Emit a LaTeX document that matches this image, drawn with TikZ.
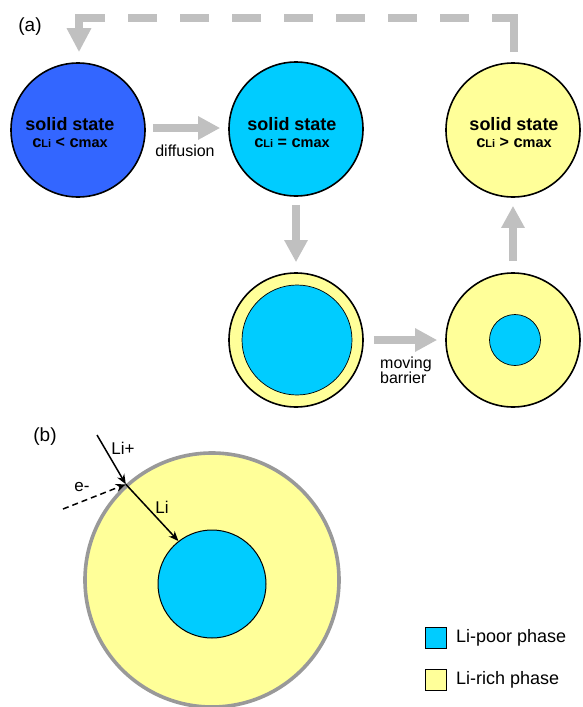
\documentclass[tikz,border=0pt]{standalone}
\usepackage{fontspec}
\setmainfont{Liberation Sans}
\usetikzlibrary{arrows.meta}
\definecolor{darkblue}{RGB}{51,102,255}
\definecolor{cyanfill}{RGB}{0,204,255}
\definecolor{yellowfill}{RGB}{255,255,153}
\definecolor{arrowgray}{RGB}{192,192,192}
\definecolor{rimgray}{RGB}{153,153,153}
\newcommand\fsz[1]{\fontsize{#1}{#1}\selectfont}
\newcommand\cexpr[1]{{\bfseries\fsz{16.5}c}{\bfseries\fsz{11}Li}\hspace{4.5pt}{\bfseries\fsz{16}#1}\hspace{4.5pt}{\bfseries\fsz{16.5}c}{\bfseries\fsz{14.5}max}}
\begin{document}
\begin{tikzpicture}[x=1pt,y=-1pt,
  circ/.style={circle, draw=black, line width=1.6pt, minimum size=134pt, inner sep=0pt},
  core/.style={circle, draw=black, line width=0.7pt, fill=cyanfill, inner sep=0pt},
  state/.style={align=center, inner sep=0pt},
  garrow/.style={draw=arrowgray, line width=8pt, -{Triangle[length=22pt,width=22pt]}},
  gdash/.style={draw=arrowgray, line width=8pt, -{Triangle[length=24pt,width=23pt]},
    dash pattern=on 56pt off 23pt on 29pt off 23pt on 29pt off 23pt on 29pt off 23pt on 29pt off 23pt on 29pt off 23pt on 29pt off 23pt on 29pt off 23pt on 80pt},
  barrow/.style={draw=black, line width=1.5pt, -{Stealth[length=10pt,width=8pt]}},
  lbl/.style={inner sep=0pt, font=\fsz{17}},
  legbox/.style={draw=black, line width=0.9pt, minimum size=21pt, inner sep=0pt},
  ]
\useasboundingbox (0,0) rectangle (582,707);

% ---------- (a) ----------
\node[inner sep=0pt, font=\fsz{19}] (pa) at (30,27) {(a)};

\node[circ, fill=darkblue]   (c1) at (78,130) {};
\node[circ, fill=cyanfill]   (c2) at (296,129) {};
\node[circ, fill=yellowfill] (c3) at (513,130) {};
\node[circ, fill=yellowfill] (c4) at (296,340) {};
\node[core, minimum size=110pt] (k4) at (297,340) {};
\node[circ, fill=yellowfill] (c5) at (513,340) {};
\node[core, minimum size=51pt] (k5) at (515,340) {};

\node[state] (t1) at (70,133) {{\bfseries\fsz{18}solid state}\\[5pt]\cexpr{<}};
\node[state] (t2) at (292,133) {{\bfseries\fsz{18}solid state}\\[5pt]\cexpr{=}};
\node[state] (t3) at (514,133) {{\bfseries\fsz{18}solid state}\\[5pt]\cexpr{>}};

\draw[garrow, shorten <=7pt, shorten >=8pt] (c1.east |- 0,128) -- (c2.west |- 0,128);
\node[inner sep=0pt, font=\fsz{16}] (dif) at (185,151) {diffusion};
\draw[garrow, shorten <=8pt, shorten >=10pt] (c2.south) -- (c4.north);
\draw[garrow, shorten <=10pt, shorten >=8pt] (c4.east) -- (c5.west);
\node[inner sep=0pt, font=\fsz{16}, align=left, anchor=west] (mb) at (380,370) {moving\\[-1pt]barrier};
\draw[garrow, shorten <=11pt, shorten >=8pt] (c5.north) -- (c3.south);

\coordinate (tr) at (514,18);
\coordinate (tl) at (79,18);
\draw[gdash] ([yshift=10pt]c3.north -| tr) -- (tr) -- (tl) -- ([yshift=10pt]c1.north -| tl);

% ---------- (b) ----------
\node[inner sep=0pt, font=\fsz{19}] (pb) at (45,437) {(b)};
\node[circle, draw=rimgray, line width=3.6pt, fill=yellowfill, minimum size=254pt, inner sep=0pt] (big) at (212,580) {};
\node[core, line width=1pt, minimum size=108pt] (inner) at (212,584) {};

\coordinate (entry) at (big.132);
\coordinate (lip) at (97,435);
\coordinate (ep) at (63,509);
\draw[barrow] (lip) -- (entry);
\draw[barrow, dash pattern=on 6pt off 4pt] (ep) -- (entry);
\draw[barrow] (entry) -- (inner.128);
\node[lbl] (lplus) at (123,448) {Li+};
\node[lbl] (lem) at (82,487) {e-};
\node[lbl] (lli) at (162,507) {Li};

% legend
\node[legbox, fill=cyanfill]   (lg1) at (435.5,637.5) {};
\node[legbox, fill=yellowfill] (lg2) at (435.5,679.5) {};
\node[inner sep=0pt, anchor=west, font=\fsz{18}] (lt1) at (456,638) {Li-poor phase};
\node[inner sep=0pt, anchor=west, font=\fsz{18}] (lt2) at (456,680) {Li-rich phase};
\end{tikzpicture}
\end{document}
